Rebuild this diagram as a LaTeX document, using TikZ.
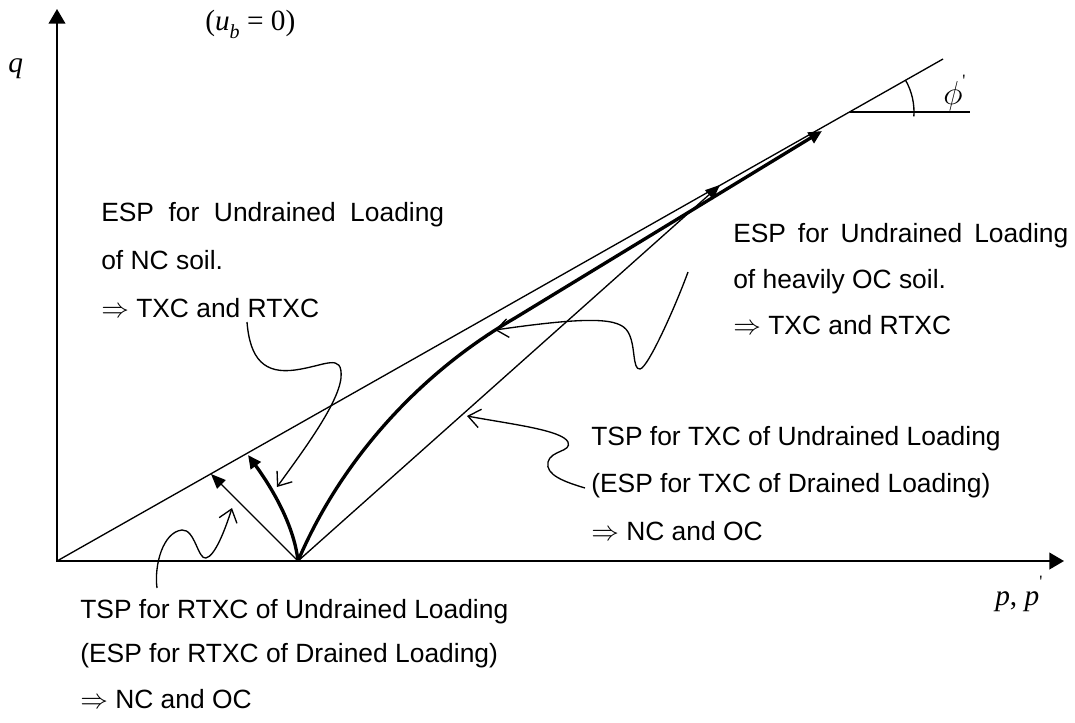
\documentclass[tikz,border=0pt]{standalone}
\usepackage{fontspec}
\setmainfont{Liberation Sans}
\newfontfamily\tnr{Liberation Serif}
\usetikzlibrary{arrows.meta}
\begin{document}
\begin{tikzpicture}[x=0.75pt,y=-0.75pt,
  lbl/.style={anchor=base west,inner sep=0pt,font=\fontsize{19.8pt}{24pt}\selectfont},
  mlbl/.style={anchor=base west,inner sep=0pt,font=\fontsize{22pt}{26pt}\selectfont\tnr\itshape},
  axes/.style={line width=1.5pt,{Triangle[length=11pt,width=12.5pt]}-{Triangle[length=11pt,width=12.5pt]}},
  slim/.style={line width=1pt},
  tsp/.style={line width=1pt,-{Triangle[length=11pt,width=9pt]}},
  espath/.style={line width=2.5pt,-{Triangle[length=10pt,width=9pt]}},
  callout/.style={line width=1pt,-{Straight Barb[length=9pt,width=14pt]}}
]
\useasboundingbox (0,0) rectangle (1075,722);

% key points
\coordinate (O) at (57,561);
\coordinate (P) at (298,561);
\coordinate (Ytop) at (57,9);
\coordinate (Xend) at (1064,561);
\coordinate (Ftop) at (943,59);
\coordinate (F) at (850,112);
\coordinate (Fh) at (970,112);
\coordinate (TXCtip) at (720,185);
\coordinate (RTXtip) at (211,474);
\coordinate (NCtip) at (248,455);
\coordinate (OCtip) at (822,131);

% axes and failure line
\draw[axes] (Ytop) -- (O) -- (Xend);
\draw[slim] (O) -- (Ftop);
\draw[slim] (F) -- (Fh);
\draw[slim] (F) ++(4:64) arc[start angle=4,end angle=-29.5,radius=64];

% stress paths
\draw[tsp] (P) -- (TXCtip);
\draw[tsp] (P) -- (RTXtip);
\draw[espath] (P) .. controls (294,525) and (272,488) .. (NCtip);
\draw[espath] (P) .. controls (340,462) and (418,374) .. (515,318) -- (OCtip);

% callout ends
\coordinate (c1s) at (247,322);
\coordinate (c1e) at (277,487);
\coordinate (c2s) at (688,272);
\coordinate (c2e) at (495,330);
\coordinate (c3s) at (585,488);
\coordinate (c3e) at (467,416);
\coordinate (c4s) at (157,588);
\coordinate (c4e) at (232,508);

\draw[callout] (c1s) .. controls (250,360) and (265,374) .. (295,370)
  .. controls (325,366) and (343,352) .. (341,378)
  .. controls (338,405) and (300,455) .. (c1e);
\draw[callout] (c2s) .. controls (676,305) and (648,368) .. (640,369)
  .. controls (632,370) and (636,345) .. (628,332)
  .. controls (620,318) and (592,316) .. (c2e);
\draw[callout] (c3s) .. controls (565,482) and (545,475) .. (548,462)
  .. controls (551,450) and (572,452) .. (568,442)
  .. controls (562,430) and (510,424) .. (c3e);
\draw[callout] (c4s) .. controls (154,565) and (163,532) .. (182,530)
  .. controls (195,529) and (198,560) .. (206,558)
  .. controls (215,556) and (225,530) .. (c4e);

% math labels
\node[mlbl] (qlab) at (8,72) {q};
\node[mlbl] (ublab) at (205,30) {{\upshape(}u\raisebox{-0.28em}{\fontsize{15pt}{15pt}\selectfont b}{\upshape\ = 0)}};
\node[mlbl] (plab) at (995,605) {p{\upshape,} p\raisebox{0.6em}{\fontsize{13pt}{13pt}\selectfont\upshape '}};
\node[mlbl,font=\fontsize{26pt}{30pt}\selectfont\tnr\itshape] (philab) at (943,104) {$\phi$\raisebox{0.5em}{\fontsize{13pt}{13pt}\selectfont\upshape '}};

% text blocks
\node[lbl] (nc1) at (101,221) {ESP\hspace{0.55em}for\hspace{0.55em}Undrained\hspace{0.55em}Loading};
\node[lbl] (nc2) at (101,269) {of NC soil.};
\node[lbl] (nc3) at (101,317) {$\Rightarrow$ TXC and RTXC};

\node[lbl] (oc1) at (733,242) {ESP\hspace{0.45em}for\hspace{0.45em}Undrained\hspace{0.45em}Loading};
\node[lbl] (oc2) at (733,288) {of heavily OC soil.};
\node[lbl] (oc3) at (733,334) {$\Rightarrow$ TXC and RTXC};

\node[lbl] (tx1) at (591,445) {TSP for TXC of Undrained Loading};
\node[lbl] (tx2) at (591,492) {(ESP for TXC of Drained Loading)};
\node[lbl] (tx3) at (591,540) {$\Rightarrow$ NC and OC};

\node[lbl] (rt1) at (80,618) {TSP for RTXC of Undrained Loading};
\node[lbl] (rt2) at (80,662) {(ESP for RTXC of Drained Loading)};
\node[lbl] (rt3) at (80,708) {$\Rightarrow$ NC and OC};
\end{tikzpicture}
\end{document}
